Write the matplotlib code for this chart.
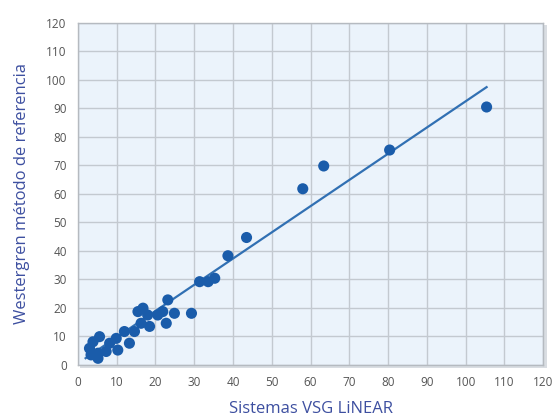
import matplotlib.pyplot as plt
from matplotlib.patches import Rectangle

plt.rcParams['font.family'] = ['Open Sans', 'DejaVu Sans']

# VSG LiNEAR vs Westergren reference readings
vsg_linear = [3.0, 3.4, 3.9, 5.2, 5.2, 5.6, 7.3, 8.2, 9.9, 10.3, 12.0, 13.3,
              14.6, 15.5, 16.3, 16.8, 18.0, 18.5, 20.6, 21.9, 22.8, 23.2, 24.9,
              29.3, 31.4, 33.6, 35.3, 38.7, 43.5, 58.0, 63.4, 80.4, 105.4]
westergren = [5.8, 3.5, 8.1, 4.1, 2.3, 9.9, 4.7, 7.6, 9.3, 5.2, 11.7, 7.6,
              11.7, 18.7, 14.6, 19.9, 17.5, 13.5, 17.5, 18.7, 14.6, 22.8, 18.1,
              18.1, 29.2, 29.2, 30.4, 38.3, 44.7, 61.8, 69.8, 75.4, 90.5]

# fitted regression line endpoints (x range of the drawn line)
fit_x = [2.0, 105.4]
fit_slope, fit_icpt = 0.92, 0.5

ticks = list(range(0, 121, 10))

fig = plt.figure(figsize=(5.56, 4.17), dpi=100)
ax = fig.add_axes([0.140, 0.125, 0.837, 0.820])

# soft shadow behind plot frame
shadow = Rectangle((0.143, 0.117), 0.840, 0.822, transform=fig.transFigure,
                   facecolor='#d9dde2', edgecolor='none', zorder=-1)
fig.patches.append(shadow)

ax.set_facecolor('#ebf3fb')
ax.set_xlim(0, 120)
ax.set_ylim(0, 120)
ax.set_xticks(ticks)
ax.set_yticks(ticks)
ax.grid(True, color='#c3c9d0', linewidth=1.0)
ax.set_axisbelow(True)
for s in ax.spines.values():
    s.set_color('#b5bac0')
    s.set_linewidth(1.0)
ax.tick_params(length=0, labelsize=8.5, labelcolor='#555555', pad=8)

ax.plot(fit_x, [fit_slope * v + fit_icpt for v in fit_x], color='#3170b3',
        linewidth=1.6, zorder=3)
ax.scatter(vsg_linear, westergren, s=64, color='#1a5caa', edgecolors='none',
           zorder=4)

ax.set_xlabel('Sistemas VSG LiNEAR', fontsize=12, color='#3d4fa0',
              labelpad=9)
ax.set_ylabel('Westergren método de referencia', fontsize=12,
              color='#3d4fa0', labelpad=12)

fig.savefig('out.png', dpi=100)
